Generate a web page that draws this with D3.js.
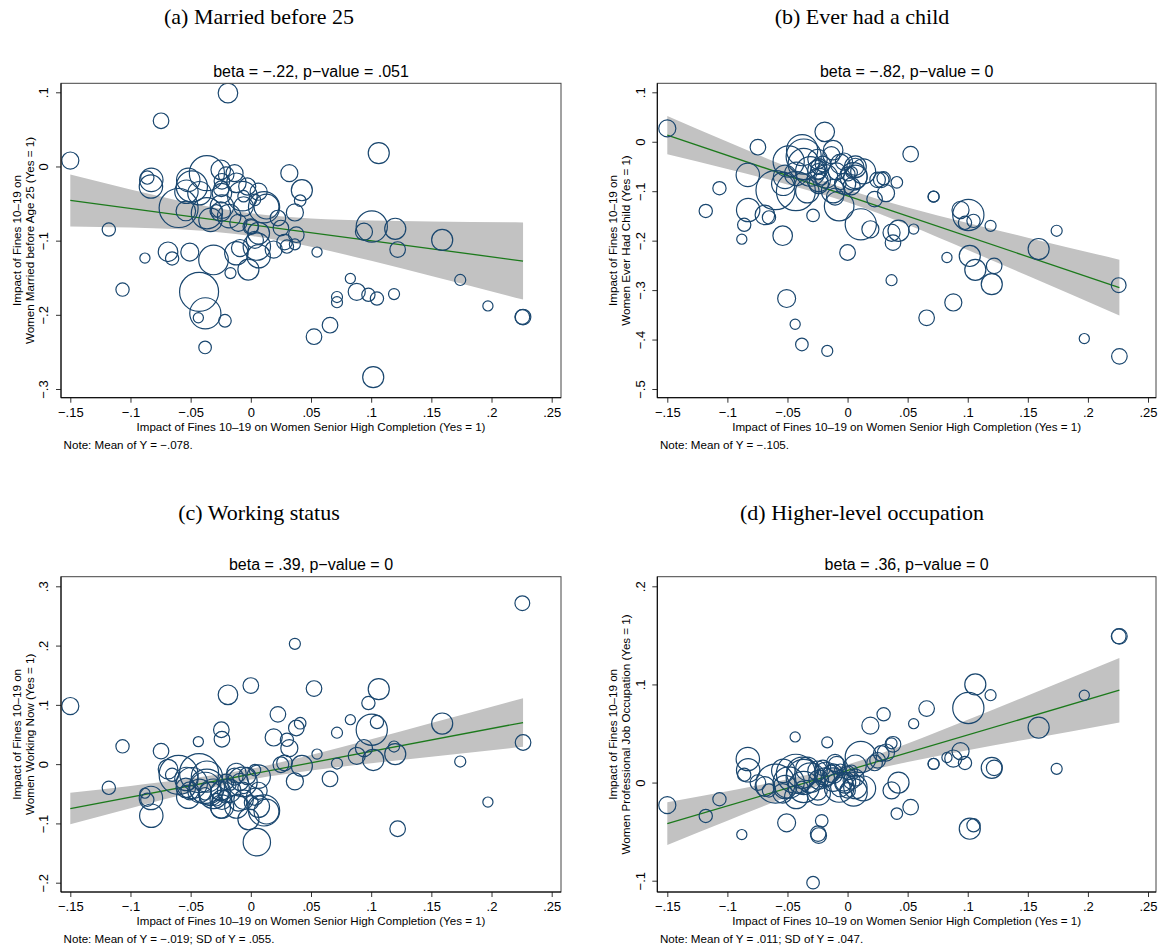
<!DOCTYPE html>
<html lang="en">
<head>
<meta charset="UTF-8" />
<title>Impact of fines: four outcomes</title>
<script src="https://d3js.org/d3.v7.min.js"></script>
<style>
  body { margin: 0; background: #fff; }
  svg { display: block; }
  .sans { font-family: "Liberation Sans", Arial, Helvetica, sans-serif; }
  .serif { font-family: "Liberation Serif", "Times New Roman", serif; }
</style>
</head>
<body>
<div id="chart"></div>
<script>
// ---- data ----
// shared x: impact of fines on women senior high completion, one value per unit
const xImpact = [
  -0.150, -0.019, -0.0746, 0.1063, -0.118, -0.088, -0.1066, -0.0688, -0.0654, -0.0507,
  -0.054, -0.031, -0.043, -0.0378, -0.0436, -0.0215, -0.038, -0.0169, -0.002, 0.032,
  0.0424, 0.041, 0.0366, 0.0378, 0.055, 0.0525, 0.0658, 0.0716, 0.0716, 0.0827,
  0.088, 0.0977, 0.1048, 0.119, 0.1017, 0.1005, 0.094, 0.120, 0.122, 0.159,
  0.174, 0.197, 0.2262, 0.2256, 0.0366, 0.000, 0.011, 0.019, 0.0225, 0.030,
  -0.0287, -0.0245, -0.024, -0.083, -0.0827, -0.086, -0.060, 0.005, 0.013, -0.007,
  -0.0365, -0.025, -0.0135, -0.0205, -0.052, -0.049, -0.0535, -0.0427, -0.024, -0.012,
  -0.003, 0.0065, 0.0034, -0.006, -0.024, -0.0365, -0.0335, -0.018, -0.025, -0.0104,
  0.025, 0.0065, 0.0034, 0.0065, -0.012, -0.009, 0.028, 0.0004, -0.006
];
// shared bubble weight
const popWeight = [
  48, 63, 40, 73, 29, 17, 29, 63, 29, 53,
  63, 144, 250, 160, 17, 26, 26, 20, 73, 48,
  73, 22, 48, 40, 17, 40, 40, 20, 20, 17,
  48, 29, 29, 20, 73, 160, 48, 73, 40, 73,
  20, 17, 40, 36, 20, 40, 160, 48, 40, 29,
  26, 40, 40, 90, 90, 29, 250, 123, 102, 144,
  203, 63, 48, 40, 90, 160, 90, 90, 63, 63,
  48, 48, 22, 63, 90, 160, 90, 90, 63, 48,
  40, 78, 48, 90, 90, 48, 40, 32, 22
];
const yMarried = [
  0.008, 0.099, 0.0616, 0.018, -0.085, -0.1235, -0.166, -0.115, -0.124, -0.1154,
  -0.060, -0.126, -0.169, -0.198, -0.204, -0.208, -0.244, -0.1437, -0.139, -0.009,
  -0.032, -0.046, -0.062, -0.092, -0.1154, -0.2295, -0.214, -0.176, -0.183, -0.151,
  -0.169, -0.173, -0.178, -0.172, -0.284, -0.081, -0.088, -0.084, -0.112, -0.099,
  -0.153, -0.188, -0.203, -0.203, -0.105, -0.081, -0.055, -0.112, -0.0695, -0.108,
  -0.060, -0.030, -0.020, -0.027, -0.018, -0.015, -0.056, -0.108, -0.054, -0.040,
  -0.009, -0.0045, -0.009, -0.011, -0.018, -0.027, -0.034, -0.036, -0.036, -0.022,
  -0.027, -0.034, -0.045, -0.054, -0.054, -0.063, -0.072, -0.067, -0.061, -0.076,
  -0.083, -0.090, -0.099, -0.121, -0.117, -0.110, -0.102, -0.081, -0.040
];
const yChild = [
  0.027, 0.020, -0.011, -0.259, -0.140, -0.197, -0.094, -0.148, -0.153, -0.317,
  -0.190, -0.060, -0.100, -0.017, -0.369, -0.075, -0.410, -0.423, -0.085, -0.104,
  -0.180, -0.082, -0.184, -0.204, -0.1766, -0.025, -0.356, -0.111, -0.111, -0.234,
  -0.325, -0.164, -0.160, -0.170, -0.231, -0.148, -0.138, -0.288, -0.251, -0.217,
  -0.180, -0.398, -0.434, -0.290, -0.280, -0.224, -0.167, -0.177, -0.116, -0.074,
  -0.149, -0.060, -0.050, -0.067, -0.138, -0.168, -0.098, -0.070, -0.060, -0.130,
  -0.030, -0.057, -0.027, -0.045, -0.071, -0.040, -0.085, -0.065, -0.085, -0.017,
  -0.040, -0.0506, -0.062, -0.045, -0.077, -0.045, -0.100, -0.070, -0.035, -0.111,
  -0.077, -0.0506, -0.090, -0.071, -0.100, -0.060, -0.077, -0.065, -0.085
];
const yWorking = [
  0.098, 0.117, 0.022, 0.1265, -0.040, -0.049, 0.030, -0.0085, -0.018, -0.045,
  -0.040, -0.050, -0.015, -0.040, 0.038, -0.055, -0.050, -0.035, -0.093, 0.027,
  -0.003, 0.069, -0.029, 0.061, 0.017, 0.1275, -0.025, 0.053, 0.001, 0.075,
  0.014, 0.103, 0.071, 0.0297, 0.007, 0.058, 0.027, 0.017, -0.109, 0.0685,
  0.0044, -0.064, 0.0365, 0.2715, 0.203, 0.1326, -0.078, 0.045, 0.084, 0.041,
  -0.060, 0.058, 0.042, -0.057, -0.087, -0.060, -0.018, -0.1316, -0.080, -0.030,
  -0.038, -0.045, -0.021, -0.030, -0.055, -0.032, -0.025, -0.045, -0.060, -0.015,
  -0.020, -0.045, -0.010, -0.060, -0.0715, -0.021, -0.050, -0.045, -0.075, -0.065,
  -0.001, -0.0715, -0.055, -0.021, -0.0715, -0.030, 0.002, -0.065, -0.040
];
const yOccupation = [
  -0.023, 0.005, 0.000, 0.100, -0.034, -0.053, -0.017, -0.004, -0.008, -0.041,
  -0.011, 0.005, 0.009, 0.010, 0.0465, -0.039, -0.005, 0.041, 0.000, 0.0306,
  0.000, -0.0316, -0.008, 0.039, 0.060, -0.025, 0.0754, 0.019, 0.019, 0.0255,
  0.0245, 0.020, -0.0435, 0.089, -0.047, 0.076, 0.032, 0.015, 0.015, 0.056,
  0.014, 0.089, 0.149, 0.149, 0.040, -0.008, 0.026, 0.058, 0.020, 0.0696,
  -0.102, -0.052, -0.054, 0.024, 0.0125, 0.008, -0.001, -0.010, -0.006, -0.005,
  0.0057, 0.012, 0.009, 0.015, -0.0045, 0.000, 0.012, -0.0147, 0.003, 0.009,
  0.000, 0.005, 0.012, -0.0045, -0.011, -0.0045, 0.014, 0.009, -0.008, 0.020,
  0.0227, 0.017, 0.002, -0.0045, 0.003, 0.018, 0.0296, 0.010, 0.013
];

// fitted line (ends) and 95% band
const fitX = [-0.15, 0.2262];
const fitMarried = [-0.0458, -0.1275];
const fitChild = [0.0135, -0.295];
const fitWorking = [-0.0749, 0.0702];
const fitOccupation = [-0.0418, 0.0941];

const ciX = [-0.15, -0.1, -0.05, 0, 0.05, 0.1, 0.15, 0.2262];
const ciHiMarried = [-0.0108, -0.031, -0.0494, -0.0632, -0.0701, -0.073, -0.0743, -0.0755];
const ciLoMarried = [-0.0808, -0.0824, -0.0856, -0.0936, -0.1083, -0.1272, -0.1475, -0.1795];
const ciHiChild = [0.0523, 0.0001, -0.0508, -0.0968, -0.133, -0.1641, -0.1939, -0.2385];
const ciLoChild = [-0.0253, -0.0551, -0.0862, -0.1222, -0.168, -0.2189, -0.2711, -0.3515];
const ciHiWorking = [-0.0482, -0.0368, -0.0244, -0.0079, 0.0154, 0.0419, 0.0692, 0.1112];
const ciLoWorking = [-0.1016, -0.0744, -0.0482, -0.0261, -0.0108, 0.0013, 0.0126, 0.0292];
const ciHiOccupation = [-0.0201, -0.0088, 0.0033, 0.0184, 0.0399, 0.0641, 0.0888, 0.1269];
const ciLoOccupation = [-0.0635, -0.0389, -0.0147, 0.0064, 0.0209, 0.0329, 0.0442, 0.0613];

// tick labels
const xTickVals = [-0.15, -0.1, -0.05, 0, 0.05, 0.1, 0.15, 0.2, 0.25];
const xTickLabels = ["\u2212.15", "\u2212.1", "\u2212.05", "0", ".05", ".1", ".15", ".2", ".25"];
const yTicksMarried = [-0.3, -0.2, -0.1, 0, 0.1];
const yLabelsMarried = ["\u2212.3", "\u2212.2", "\u2212.1", "0", ".1"];
const yTicksChild = [-0.5, -0.4, -0.3, -0.2, -0.1, 0, 0.1];
const yLabelsChild = ["\u2212.5", "\u2212.4", "\u2212.3", "\u2212.2", "\u2212.1", "0", ".1"];
const yTicksWorking = [-0.2, -0.1, 0, 0.1, 0.2, 0.3];
const yLabelsWorking = ["\u2212.2", "\u2212.1", "0", ".1", ".2", ".3"];
const yTicksOccupation = [-0.1, 0, 0.1, 0.2];
const yLabelsOccupation = ["\u2212.1", "0", ".1", ".2"];

const xTitle = "Impact of Fines 10\u201319 on Women Senior High Completion (Yes = 1)";

// ---- layout ----
const width = 1162, height = 950;
const navy = "#1a476f", green = "#1c7a1c", band = "#c2c2c2";

// options per panel, built from the arrays above
const panels = [
  { title: "(a) Married before 25", titleX: 259, titleY: 24,
    sub: "beta = \u2212.22, p\u2212value = .051",
    ytitle: ["Impact of Fines 10\u201319 on", "Women Married before Age 25 (Yes = 1)"],
    note: "Note: Mean of Y = \u2212.078.",
    y: yMarried, fit: fitMarried, hi: ciHiMarried, lo: ciLoMarried,
    yTicks: yTicksMarried, yLabels: yLabelsMarried,
    frame: [61, 83.3, 561, 397.7], xr: [70.3, 551.7], yPix: [389, 92.3] },
  { title: "(b) Ever had a child", titleX: 862, titleY: 24,
    sub: "beta = \u2212.82, p\u2212value = 0",
    ytitle: ["Impact of Fines 10\u201319 on", "Women Ever Had Child (Yes = 1)"],
    note: "Note: Mean of Y = \u2212.105.",
    y: yChild, fit: fitChild, hi: ciHiChild, lo: ciLoChild,
    yTicks: yTicksChild, yLabels: yLabelsChild,
    frame: [657.3, 83.3, 1156, 397.7], xr: [667.3, 1148], yPix: [389, 92.3] },
  { title: "(c) Working status", titleX: 259, titleY: 520,
    sub: "beta = .39, p\u2212value = 0",
    ytitle: ["Impact of Fines 10\u201319 on", "Women Working Now (Yes = 1)"],
    note: "Note: Mean of Y = \u2212.019; SD of Y = .055.",
    y: yWorking, fit: fitWorking, hi: ciHiWorking, lo: ciLoWorking,
    yTicks: yTicksWorking, yLabels: yLabelsWorking,
    frame: [61, 576.7, 561, 892], xr: [70.3, 551.7], yPix: [882.7, 586.3] },
  { title: "(d) Higher-level occupation", titleX: 862, titleY: 520,
    sub: "beta = .36, p\u2212value = 0",
    ytitle: ["Impact of Fines 10\u201319 on", "Women Professional Job Occupation (Yes = 1)"],
    note: "Note: Mean of Y = .011; SD of Y = .047.",
    y: yOccupation, fit: fitOccupation, hi: ciHiOccupation, lo: ciLoOccupation,
    yTicks: yTicksOccupation, yLabels: yLabelsOccupation,
    frame: [657.3, 576.7, 1156, 892], xr: [667.3, 1148], yPix: [880.7, 586.3] }
];

const svg = d3.select("#chart").append("svg")
  .attr("width", width)
  .attr("height", height);
svg.append("rect").attr("width", width).attr("height", height).attr("fill", "#fff");

const rScale = d3.scaleSqrt().domain([0, 250]).range([0, 19.5]);

panels.forEach(p => {
  const [fx0, fy0, fx1, fy1] = p.frame;
  const g = svg.append("g");

  const x = d3.scaleLinear().domain([-0.15, 0.25]).range(p.xr);
  const yMin = d3.min(p.yTicks), yMax = d3.max(p.yTicks);
  const y = d3.scaleLinear().domain([yMin, yMax]).range(p.yPix);

  // panel caption
  svg.append("text")
    .attr("class", "serif")
    .attr("x", p.titleX).attr("y", p.titleY)
    .attr("text-anchor", "middle")
    .style("font-size", "22px")
    .text(p.title);

  // beta subtitle centred over plot region
  g.append("text")
    .attr("class", "sans")
    .attr("x", (fx0 + fx1) / 2).attr("y", fy0 - 12)
    .attr("dy", "0.35em")
    .attr("text-anchor", "middle")
    .style("font-size", "16px")
    .text(p.sub);

  // clip to plot region
  const clipId = "clip" + p.title[1];
  svg.append("clipPath").attr("id", clipId)
    .append("rect").attr("x", fx0).attr("y", fy0)
    .attr("width", fx1 - fx0).attr("height", fy1 - fy0);
  const plot = g.append("g").attr("clip-path", `url(#${clipId})`);

  // confidence band
  const bandData = ciX.map((xv, i) => ({ x: xv, lo: p.lo[i], hi: p.hi[i] }));
  plot.append("path")
    .datum(bandData)
    .attr("fill", band)
    .attr("d", d3.area()
      .x(d => x(d.x))
      .y0(d => y(d.lo))
      .y1(d => y(d.hi))
      .curve(d3.curveMonotoneX));

  // fitted line
  const fitData = fitX.map((xv, i) => ({ x: xv, y: p.fit[i] }));
  plot.append("path")
    .datum(fitData)
    .attr("fill", "none")
    .attr("stroke", green)
    .attr("stroke-width", 1.3)
    .attr("d", d3.line().x(d => x(d.x)).y(d => y(d.y)));

  // bubbles
  const pts = xImpact.map((xv, i) => ({ x: xv, y: p.y[i], w: popWeight[i] }));
  plot.selectAll("circle")
    .data(pts)
    .join("circle")
    .attr("cx", d => x(d.x))
    .attr("cy", d => y(d.y))
    .attr("r", d => rScale(d.w))
    .attr("fill", "none")
    .attr("stroke", navy)
    .attr("stroke-width", 1.2);

  // plot region outline
  g.append("rect")
    .attr("x", fx0).attr("y", fy0)
    .attr("width", fx1 - fx0).attr("height", fy1 - fy0)
    .attr("fill", "none")
    .attr("stroke", "#444")
    .attr("stroke-width", 1);

  // x axis
  const xAxis = d3.axisBottom(x)
    .tickValues(xTickVals)
    .tickFormat((d, i) => xTickLabels[i])
    .tickSize(5)
    .tickSizeOuter(0);
  const gx = g.append("g")
    .attr("transform", `translate(0,${fy1})`)
    .call(xAxis);
  gx.select(".domain").remove();
  gx.selectAll(".tick line").attr("stroke", "#333");
  gx.selectAll(".tick text")
    .attr("class", "sans")
    .attr("y", 14.6).attr("dy", "0.35em")
    .attr("fill", "#000")
    .style("font-size", "13px");
  g.append("line")
    .attr("x1", fx0).attr("x2", fx1).attr("y1", fy1).attr("y2", fy1)
    .attr("stroke", "#000");

  // y axis (labels rotated, Stata style)
  const yAxis = d3.axisLeft(y)
    .tickValues(p.yTicks)
    .tickFormat((d, i) => p.yLabels[i])
    .tickSize(5)
    .tickSizeOuter(0);
  const gy = g.append("g")
    .attr("transform", `translate(${fx0},0)`)
    .call(yAxis);
  gy.select(".domain").remove();
  gy.selectAll(".tick line").attr("stroke", "#333");
  gy.selectAll(".tick text")
    .attr("class", "sans")
    .attr("x", null).attr("dy", null)
    .attr("text-anchor", "middle")
    .attr("transform", "translate(-17.3,0) rotate(-90)")
    .attr("dy", "0.35em")
    .attr("fill", "#000")
    .style("font-size", "13px");
  g.append("line")
    .attr("x1", fx0).attr("x2", fx0).attr("y1", fy0).attr("y2", fy1)
    .attr("stroke", "#000");

  // y title, two lines
  const cy = (fy0 + fy1) / 2;
  p.ytitle.forEach((line, i) => {
    g.append("text")
      .attr("class", "sans")
      .attr("transform", `translate(${fx0 - 44 + i * 12.5},${cy}) rotate(-90)`)
      .attr("text-anchor", "middle")
      .attr("dy", "0.35em")
      .style("font-size", "11.6px")
      .text(line);
  });

  // x title
  g.append("text")
    .attr("class", "sans")
    .attr("x", (fx0 + fx1) / 2).attr("y", fy1 + 29.3)
    .attr("dy", "0.35em")
    .attr("text-anchor", "middle")
    .style("font-size", "11.6px")
    .text(xTitle);

  // note
  g.append("text")
    .attr("class", "sans")
    .attr("x", fx0 + 2.6).attr("y", fy1 + 47.3)
    .attr("dy", "0.35em")
    .style("font-size", "11.6px")
    .text(p.note);
});
</script>
</body>
</html>
